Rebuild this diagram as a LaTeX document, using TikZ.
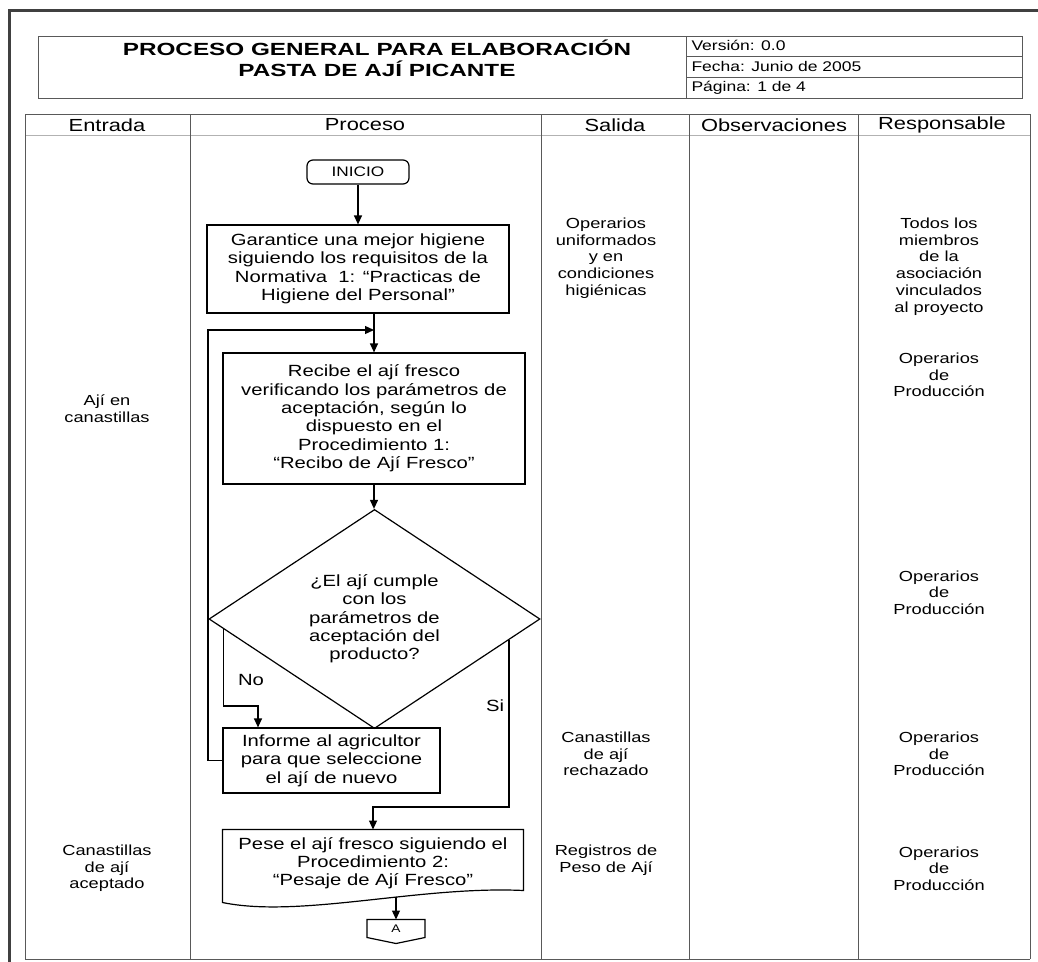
\documentclass[tikz,border=0pt]{standalone}
\usepackage{fontspec}
\setmainfont{Liberation Sans}[FakeStretch=1.25]
\newfontfamily\titlefont{Liberation Sans}[FakeStretch=1.38]
\usetikzlibrary{shapes.geometric,arrows.meta,calc}

\tikzset{every picture/.style={line width=1pt}}
\tikzset{
  rule/.style={draw=black!65, line width=1pt},
  procbox/.style={draw, line width=1.2pt, align=center, inner sep=0pt, font=\fontsize{16.2}{18.4}\selectfont},
  sidetext/.style={align=center, inner sep=0pt, font=\fontsize{14.6}{16.7}\selectfont},
  colhead/.style={inner sep=0pt, font=\fontsize{17.5}{18}\selectfont},
  infotext/.style={anchor=west, inner sep=0pt, font=\fontsize{14}{16}\selectfont},
  flow/.style={line width=1.2pt, -{Triangle[length=9pt,width=8pt]}},
}

\begin{document}
\begin{tikzpicture}[x=1pt,y=1pt,yscale=-1,xscale=1]
\useasboundingbox (0,0) rectangle (1038,961);

%Outer frame
\draw [draw=black!75, line width=3pt] (9,975) -- (9,10) -- (1050,10) ;

%Shape: Rectangle [header]
\draw [rule] (38,36) rectangle (1022,98) ;
\draw [rule] (686,36) -- (686,98) ;
\draw [rule] (686,56) -- (1022,56) ;
\draw [rule] (686,77) -- (1022,77) ;

% Text Node
\node [font={\titlefont\bfseries\fontsize{17.6}{21}\selectfont}, align=center, inner sep=0pt] (title) at (377,58) {PROCESO GENERAL PARA ELABORACIÓN\\PASTA DE AJÍ PICANTE};
% Text Node
\node [infotext] (version) at (691,45.5) {Versión: 0.0};
% Text Node
\node [infotext] (fecha) at (691,66.5) {Fecha: Junio de 2005};
% Text Node
\node [infotext] (pagina) at (691,87.5) {Página: 1 de 4};

%Straight Lines [table]
\draw [rule] (25,114) -- (1030,114) ;
\draw [draw=black!30] (25,135) -- (1030,135) ;
\draw [rule] (25,959) -- (1030,959) ;
\draw [rule] (25,114) -- (25,959) ;
\draw [rule] (190,114) -- (190,959) ;
\draw [rule] (541,114) -- (541,959) ;
\draw [rule] (689,114) -- (689,959) ;
\draw [rule] (858,114) -- (858,959) ;
\draw [rule] (1030,114) -- (1030,959) ;

% Text Node
\node [colhead] (hentrada) at (107,125) {Entrada};
% Text Node
\node [colhead] (hproceso) at (365,125) {Proceso};
% Text Node
\node [colhead] (hsalida) at (615,125) {Salida};
% Text Node
\node [colhead] (hobs) at (774,125) {Observaciones};
% Text Node
\node [colhead] (hresp) at (942,125) {Responsable};

%Rounded Rect [id:inicio]
\node [draw, line width=1.2pt, rounded corners=6pt, minimum width=102pt, minimum height=24pt, inner sep=0pt, font=\fontsize{13.8}{15}\selectfont] (start) at (358,172) {INICIO};

%Shape: Rectangle [id:higiene]
\node [procbox, minimum width=302pt, minimum height=88pt] (box1) at (358,269) {Garantice una mejor higiene\\siguiendo los requisitos de la\\Normativa\ \ 1: ``Practicas de\\Higiene del Personal''};

%Shape: Rectangle [id:recibo]
\node [procbox, minimum width=302pt, minimum height=131pt] (box2) at (374,418.5) {Recibe el ají fresco\\verificando los parámetros de\\aceptación, según lo\\dispuesto en el\\Procedimiento 1:\\``Recibo de Ají Fresco''};

%Shape: Diamond [id:decision]
\node [draw, diamond, line width=1.2pt, minimum width=331pt, minimum height=192pt, inner sep=0pt, align=center, font=\fontsize{16.2}{18.3}\selectfont] (dec) at (374.5,619) {¿El ají cumple\\con los\\parámetros de\\aceptación del\\producto?};

%Shape: Rectangle [id:informe]
\node [procbox, minimum width=217pt, minimum height=65pt] (informe) at (331.5,760.5) {Informe al agricultor\\para que seleccione\\el ají de nuevo};

%Shape: Document [id:pesaje]
\node [align=center, inner sep=0pt, minimum width=300pt, minimum height=66pt, font=\fontsize{16.2}{18.2}\selectfont] (pese) at (373,863) {Pese el ají fresco siguiendo el\\Procedimiento 2:\\``Pesaje de Ají Fresco''};
\draw [line width=1.2pt] (pese.north west) -- (pese.north east) -- ($(pese.south east)+(0,-6)$) .. controls ($(pese.south)+(47,-11)$) and ($(pese.south)+(-73,22)$) .. ($(pese.south west)+(0,6)$) -- cycle ;

%Off-page connector [id:conA]
\node [inner sep=0pt, minimum width=57pt, minimum height=17pt, font=\fontsize{11}{12}\selectfont] (aconn) at (396,928.5) {A};
\draw [line width=1.2pt] (aconn.north west) -- (aconn.north east) -- (aconn.south east) -- ($(aconn.south)+(0,6)$) -- (aconn.south west) -- cycle ;

%Straight Lines [flow]
\draw [flow] (start.south) -- (start.south |- box1.north) ;
\draw [flow] (box1.south -| box2.north) -- (box2.north) ;
\coordinate (loop) at (208,330) ;
\draw [flow] (informe.west) -- (informe.west -| loop) -- (loop) -- (loop -| box2.north) ;
\draw [flow] (box2.south) -- (box2.south |- dec.north) ;
\coordinate (nostart) at ($(dec.west)!0.09!(dec.south)$) ;
\coordinate (nobend) at (258,706) ;
\draw [flow] (nostart) |- (nobend) -- (nobend |- informe.north) ;
\coordinate (sistart) at ($(dec.east)!0.19!(dec.south)$) ;
\coordinate (sibend) at (373,807) ;
\draw [flow] (sistart) |- (sibend) -- (pese.north) ;
\draw [flow] (pese.south -| aconn.north) -- (aconn.north) ;

% Text Node
\node [inner sep=0pt, font=\fontsize{16.2}{18}\selectfont] (nolab) at (251,680) {No};
% Text Node
\node [inner sep=0pt, font=\fontsize{16.2}{18}\selectfont] (silab) at (495,706) {Si};

% Text Node [entrada]
\node [sidetext] (ent1) at (107,408.5) {Ají en\\canastillas};
% Text Node
\node [sidetext] (ent2) at (107,868.5) {Canastillas\\de ají\\aceptado};

% Text Node [salida]
\node [sidetext] (sal1) at (606,258) {Operarios\\uniformados\\y en\\condiciones\\higiénicas};
% Text Node
\node [sidetext] (sal2) at (606,754) {Canastillas\\de ají\\rechazado};
% Text Node
\node [sidetext] (sal3) at (606,860) {Registros de\\Peso de Ají};

% Text Node [responsable]
\node [sidetext] (resp1) at (939,266.5) {Todos los\\miembros\\de la\\asociación\\vinculados\\al proyecto};
% Text Node
\node [sidetext] (resp2) at (939,375) {Operarios\\de\\Producción};
% Text Node
\node [sidetext] (resp3) at (939,592.5) {Operarios\\de\\Producción};
% Text Node
\node [sidetext] (resp4) at (939,754) {Operarios\\de\\Producción};
% Text Node
\node [sidetext] (resp5) at (939,868.5) {Operarios\\de\\Producción};

\end{tikzpicture}
\end{document}
